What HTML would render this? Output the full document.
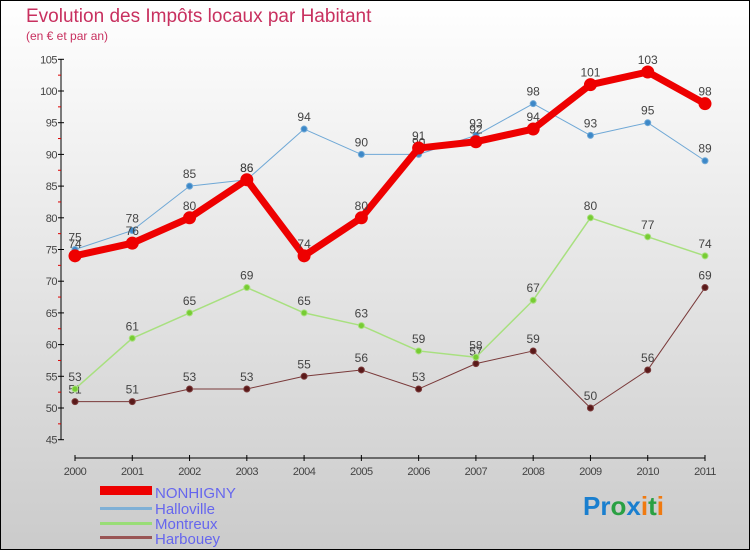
<!DOCTYPE html>
<html><head><meta charset="utf-8"><style>
body{margin:0}
#c{width:750px;height:550px;position:relative;overflow:hidden;font-family:"Liberation Sans",sans-serif}
</style></head><body>
<div id="c">
<svg id="s" width="750" height="550" xmlns="http://www.w3.org/2000/svg">
<defs><linearGradient id="bg" x1="0" y1="0" x2="0" y2="1"><stop offset="0" stop-color="#ffffff"/><stop offset="1" stop-color="#cbcbcb"/></linearGradient></defs>
<rect x="0.5" y="0.5" width="749" height="549" fill="url(#bg)" stroke="#000"/>
<text x="26" y="22" font-size="19" fill="#c8305f">Evolution des Impôts locaux par Habitant</text>
<text x="26" y="40" font-size="12" fill="#c8305f">(en € et par an)</text>
<g id="axes"></g><g id="series"></g>
<g>
<rect x="100" y="486" width="52" height="9" fill="#e00"/>
<text x="155" y="498" font-size="15" fill="#6666ee">NONHIGNY</text>
<rect x="100" y="507" width="52" height="3" fill="#7fb0d6"/>
<text x="155" y="514" font-size="15" fill="#6666ee">Halloville</text>
<rect x="100" y="522" width="52" height="3" fill="#99dd77"/>
<text x="155" y="529" font-size="15" fill="#6666ee">Montreux</text>
<rect x="100" y="536" width="52" height="3" fill="#995555"/>
<text x="155" y="544" font-size="15" fill="#6666ee">Harbouey</text>
</g>
<text x="583" y="515" font-size="26" font-weight="bold"><tspan fill="#1a7fcf">Pr</tspan><tspan fill="#2aa043">o</tspan><tspan fill="#1a7fcf">x</tspan><tspan fill="#f07a10">i</tspan><tspan fill="#2aa043">t</tspan><tspan fill="#f07a10">i</tspan></text>
</svg>
</div>
<script>
const years=[2000,2001,2002,2003,2004,2005,2006,2007,2008,2009,2010,2011];
const yTicks=[45,50,55,60,65,70,75,80,85,90,95,100,105];
const nonhigny=[74,76,80,86,74,80,91,92,94,101,103,98];
const halloville=[75,78,85,86,94,90,90,93,98,93,95,89];
const montreux=[53,61,65,69,65,63,59,58,67,80,77,74];
const harbouey=[51,51,53,53,55,56,53,57,59,50,56,69];
const NS="http://www.w3.org/2000/svg";
function X(i){return 75+i*(630/11);}
function Y(v){return 408-(v-50)*6.34;}
function mk(t,a,p){const e=document.createElementNS(NS,t);for(const k in a)e.setAttribute(k,a[k]);p.appendChild(e);return e;}
const ax=document.getElementById('axes');
let l=mk('line',{x1:61,y1:Y(105),x2:61,y2:Y(45),stroke:'#000'},ax);


yTicks.forEach(v=>{
 mk('line',{x1:58,x2:64,y1:Y(v),y2:Y(v),stroke:'#000'},ax);
 if(v<105) mk('line',{x1:58,x2:61,y1:Y(v+2.5),y2:Y(v+2.5),stroke:'#d00'},ax);
 const t=mk('text',{x:57,y:Y(v)+4,'font-size':11,'text-anchor':'end',fill:'#444','letter-spacing':'-0.5'},ax);t.textContent=v;
 
 
});
l=mk('line',{x1:75,y1:458,x2:705,y2:458,stroke:'#000'},ax);


years.forEach((y,i)=>{
 mk('line',{x1:X(i),x2:X(i),y1:455,y2:461,stroke:'#000'},ax);
 const t=mk('text',{x:X(i),y:475,'font-size':11,'text-anchor':'middle',fill:'#444','letter-spacing':'-0.5'},ax);t.textContent=y;
 
 
});
const sg=document.getElementById('series');
function draw(data,name,color,w,r,dot){
 const g=mk('g',{},sg);
 
 
 const p=mk('polyline',{points:data.map((v,i)=>X(i)+','+Y(v)).join(' '),fill:'none',stroke:color,'stroke-width':w,'stroke-linejoin':'round'},g);
 
 
 data.forEach((v,i)=>{
  const c=mk('circle',{cx:X(i),cy:Y(v),r:r,fill:dot,stroke:color,'stroke-width':1},g);
  
  
  const t=mk('text',{x:X(i),y:Y(v)-8,'font-size':12,'text-anchor':'middle',fill:'#444'},g);t.textContent=v;
  
  
 });
}
draw(harbouey,'harbouey','#7a3a3a',1,3,'#5a1a1a');
draw(montreux,'montreux','#a8e07f',1.5,3,'#77cc33');
draw(halloville,'halloville','#6fa8d6',1,3,'#3d88c8');
draw(nonhigny,'nonhigny','#ee0000',7,6,'#ee0000');
</script>
</body></html>
